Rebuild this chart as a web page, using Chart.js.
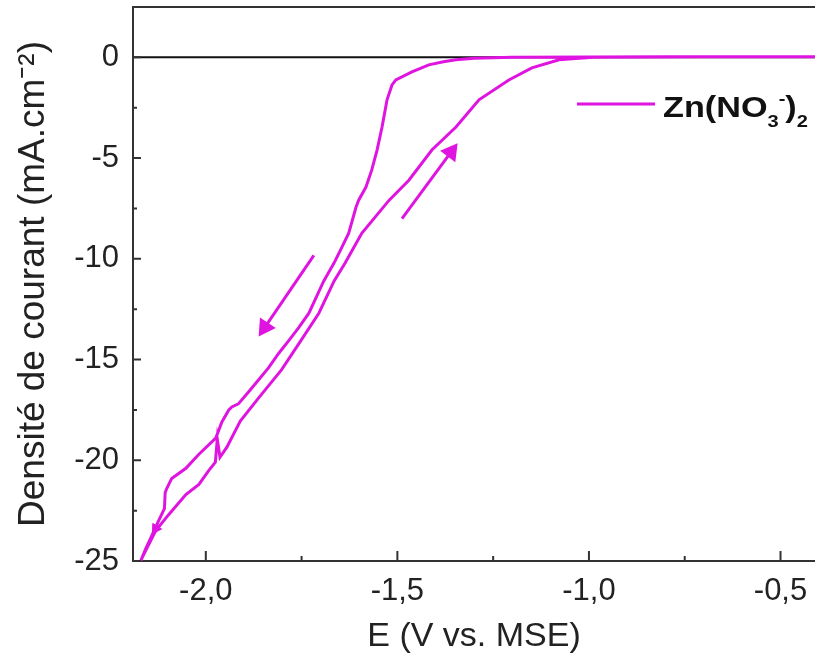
<html lang="fr">
<head>
  <meta charset="UTF-8">
  <script src="https://cdn.jsdelivr.net/npm/chart.js@4.4.1/dist/chart.umd.min.js"></script>
  <title>Zn(NO3)2 voltammogramme</title>
  <style>
    body { margin: 0; background: #fff; overflow: hidden; }
    canvas { display: block; }
  </style>
</head>
<body>
  <canvas id="myChart" width="815" height="657"></canvas>
  <script>
    // potential (V vs. MSE) and current density (mA.cm-2)
    const fwdE = [-0.41, -0.8, -1.0, -1.2, -1.3, -1.347, -1.38, -1.418, -1.462, -1.504, -1.514, -1.527, -1.540, -1.553, -1.567, -1.582, -1.601, -1.608, -1.627, -1.645, -1.665, -1.692, -1.731, -1.757, -1.783, -1.81, -1.836, -1.862, -1.888, -1.915, -1.932, -1.94, -1.958, -1.974, -2.018, -2.052, -2.089, -2.102, -2.106, -2.108, -2.123, -2.14, -2.157, -2.17, -2.18];
    const fwdJ = [0.03, 0.03, 0.02, 0.0, -0.05, -0.12, -0.22, -0.37, -0.72, -1.12, -1.37, -2.11, -3.46, -4.60, -5.60, -6.44, -7.09, -7.44, -8.73, -9.43, -10.2, -11.1, -12.7, -13.4, -14.05, -14.7, -15.4, -16.0, -16.6, -17.2, -17.35, -17.5, -18.1, -18.9, -19.7, -20.4, -20.9, -21.4, -21.6, -22.4, -23.0, -23.7, -24.4, -25.0, -25.4];
    const revE = [-2.165, -2.131, -2.097, -2.052, -2.018, -1.992, -1.975, -1.97, -1.963, -1.945, -1.91, -1.862, -1.802, -1.748, -1.705, -1.665, -1.636, -1.593, -1.522, -1.47, -1.41, -1.347, -1.287, -1.209, -1.149, -1.078, -0.99, -0.7, -0.41];
    const revJ = [-24.8, -23.5, -22.7, -21.7, -21.2, -20.5, -20.1, -18.95, -19.85, -19.35, -18.05, -16.9, -15.5, -13.95, -12.7, -11.1, -10.2, -8.73, -7.1, -6.1, -4.6, -3.46, -2.11, -1.12, -0.52, -0.12, 0.0, 0.03, 0.03];

    // scan direction arrows
    const arrowDownE = [-1.718, -1.846];
    const arrowDownJ = [-9.83, -13.4];
    const arrowUpE = [-1.488, -1.360];
    const arrowUpJ = [-8.0, -4.7];
    const arrowTipE = [-2.131];
    const arrowTipJ = [-23.4];

    const xTicks = [-2.0, -1.5, -1.0, -0.5];
    const xMinor = [-1.75, -1.25, -0.75];
    const yTicks = [-25, -20, -15, -10, -5, 0];
    const yMinor = [-22.5, -17.5, -12.5, -7.5, -2.5];
    const xMin = -2.19, xMax = -0.41, yMin = -25, yMax = 2.5;

    const magenta = '#e014e0';
    const axisColor = '#333';

    const pts = (xs, ys) => xs.map((v, i) => ({ x: v, y: ys[i] }));

    const frame = {
      id: 'frame',
      afterDraw(chart) {
        const { ctx, chartArea: a, scales: { x, y } } = chart;
        ctx.save();
        ctx.strokeStyle = axisColor;
        ctx.lineWidth = 2;
        ctx.beginPath();
        ctx.moveTo(a.left, a.top);
        ctx.lineTo(a.right, a.top);
        yTicks.forEach(v => { const p = y.getPixelForValue(v); ctx.moveTo(a.left, p); ctx.lineTo(a.left + 8, p); });
        yMinor.forEach(v => { const p = y.getPixelForValue(v); ctx.moveTo(a.left, p); ctx.lineTo(a.left + 4, p); });
        xTicks.forEach(v => { const p = x.getPixelForValue(v); ctx.moveTo(p, a.bottom); ctx.lineTo(p, a.bottom - 10); });
        xMinor.forEach(v => { const p = x.getPixelForValue(v); ctx.moveTo(p, a.bottom); ctx.lineTo(p, a.bottom - 5); });
        ctx.stroke();

        // legend
        const lx = a.left + 444, ly = a.top + 97;
        ctx.strokeStyle = magenta;
        ctx.lineWidth = 3;
        ctx.beginPath();
        ctx.moveTo(lx, ly);
        ctx.lineTo(lx + 78, ly);
        ctx.stroke();

        ctx.translate(lx + 86, ly + 13);
        ctx.scale(1.18, 1);
        ctx.fillStyle = '#111';
        ctx.textBaseline = 'alphabetic';
        const big = 'bold 29px "Liberation Sans", Arial, sans-serif';
        const small = 'bold 17px "Liberation Sans", Arial, sans-serif';
        let cx = 0;
        const put = (t, f, dy) => { ctx.font = f; ctx.fillText(t, cx, dy); cx += ctx.measureText(t).width; };
        put('Zn(NO', big, 0);
        put('3', small, 10);
        put('-', small, -13);
        put(')', big, 0);
        put('2', small, 10);
        ctx.restore();
      }
    };

    const ctx = document.getElementById('myChart').getContext('2d');
    const myChart = new Chart(ctx, {
      type: 'line',
      data: {
        datasets: [
          {
            label: 'Zn(NO₃⁻)₂',
            data: pts(fwdE, fwdJ).concat(pts(revE, revJ)),
            borderColor: magenta,
            borderWidth: 3,
            pointRadius: 0,
            tension: 0
          },
          {
            label: 'arrow1',
            data: pts(arrowDownE, arrowDownJ),
            borderColor: magenta,
            borderWidth: 3,
            pointStyle: 'triangle',
            pointRotation: 214,
            pointRadius: [0, 8],
            pointBackgroundColor: magenta,
            pointBorderColor: magenta
          },
          {
            label: 'arrow2',
            data: pts(arrowUpE, arrowUpJ),
            borderColor: magenta,
            borderWidth: 3,
            pointStyle: 'triangle',
            pointRotation: 37,
            pointRadius: [0, 8],
            pointBackgroundColor: magenta,
            pointBorderColor: magenta
          },
          {
            label: 'arrow3',
            data: pts(arrowTipE, arrowTipJ),
            showLine: false,
            pointStyle: 'triangle',
            pointRotation: 212,
            pointRadius: 6,
            pointBackgroundColor: magenta,
            pointBorderColor: magenta
          },
          {
            label: 'zero',
            data: [{ x: xMin, y: 0 }, { x: xMax, y: 0 }],
            borderColor: '#111',
            borderWidth: 2,
            pointRadius: 0
          }
        ]
      },
      options: {
        responsive: false,
        animation: false,
        layout: { autoPadding: false, padding: { top: 7, right: 0, left: 0, bottom: 0 } },
        plugins: {
          legend: { display: false },
          tooltip: { enabled: false }
        },
        scales: {
          x: {
            type: 'linear',
            min: xMin,
            max: xMax,
            afterBuildTicks: s => { s.ticks = xTicks.map(v => ({ value: v })); },
            afterFit: s => { s.height = 96; s.paddingLeft = 0; s.paddingRight = 0; },
            grid: { display: false, drawTicks: false },
            border: { display: true, color: axisColor, width: 2 },
            ticks: {
              padding: 12,
              color: '#222',
              font: { family: 'Liberation Sans', size: 31 },
              maxRotation: 0,
              callback: v => v.toFixed(1).replace('.', ',')
            },
            title: {
              display: true,
              text: 'E (V vs. MSE)',
              color: '#222',
              font: { family: 'Liberation Sans', size: 34 },
              padding: { top: 0, bottom: 0 }
            }
          },
          y: {
            min: yMin,
            max: yMax,
            afterBuildTicks: s => { s.ticks = yTicks.map(v => ({ value: v })); },
            afterFit: s => { s.width = 133; s.paddingTop = 0; s.paddingBottom = 0; },
            grid: { display: false, drawTicks: false },
            border: { display: true, color: axisColor, width: 2 },
            ticks: {
              padding: 14,
              color: '#222',
              font: { family: 'Liberation Sans', size: 31 },
              callback: v => String(v)
            },
            title: {
              display: true,
              text: 'Densité de courant (mA.cm⁻²)',
              color: '#222',
              font: { family: 'Liberation Sans', size: 37 },
              padding: { top: 12, bottom: 0 }
            }
          }
        }
      },
      plugins: [frame]
    });
  </script>
</body>
</html>
